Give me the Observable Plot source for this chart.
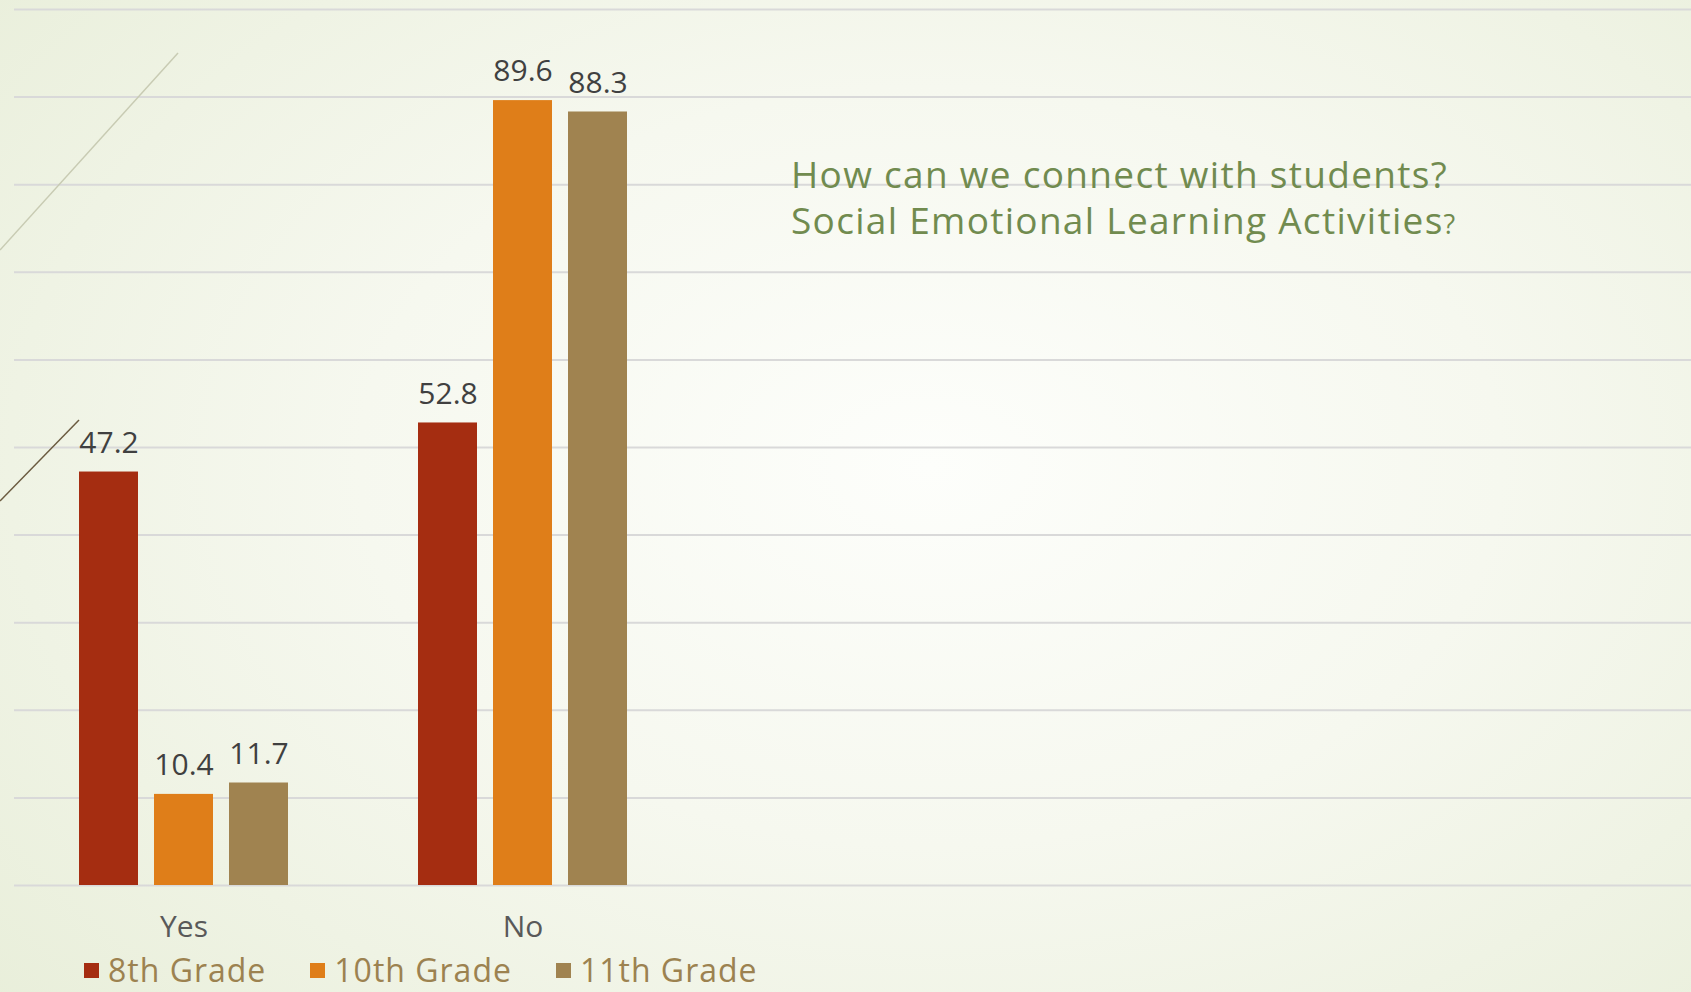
<!DOCTYPE html>
<html>
<head>
<meta charset="utf-8">
<script src="https://cdn.jsdelivr.net/npm/d3@7"></script>
<script src="https://cdn.jsdelivr.net/npm/@observablehq/plot@0.6"></script>
<style>
  html, body { margin: 0; padding: 0; width: 1691px; height: 992px; overflow: hidden; }
  body {
    background: radial-gradient(ellipse 75% 85% at 55% 47%, #fdfefb 0%, #f6f8ef 45%, #e8eed9 100%);
    font-family: "Open Sans", sans-serif;
    position: relative;
  }
  #stage { position: relative; width: 1691px; height: 950px; }
  #stage > * { position: absolute; left: 0; top: 0; }
  #deco { position: absolute; left: 0; top: 0; width: 400px; height: 600px; pointer-events: none; }
  #title {
    position: absolute; left: 791px; top: 151px;
    font-size: 37px; line-height: 46px; letter-spacing: 1.3px; color: #718b4f; white-space: nowrap;
  }
  #legend {
    display: flex; align-items: center; margin-top: 2px; height: 36px; line-height: 36px;
    padding-left: 84px; font-size: 32px; letter-spacing: 1px; color: #9c8250;
  }
  .item { display: flex; align-items: center; margin-right: 44px; }
  .sw { width: 15px; height: 15px; margin-right: 9px; }
</style>
</head>
<body>
<div id="stage"></div>
<svg id="deco" viewBox="0 0 400 600">
  <path d="M0,250 Q90,150 178,53" fill="none" stroke="#c8cbb3" stroke-width="1.5"/>
  <path d="M0,501 L79,420" fill="none" stroke="#6b5b40" stroke-width="1.5"/>
</svg>
<div id="title">How can we connect with students?<br>Social Emotional Learning Activities<span style="font-size:27px">?</span></div>
<div id="legend"></div>
<script>
const categories = ["Yes", "No"];
const grades = ["8th Grade", "10th Grade", "11th Grade"];
const yesValues = [47.2, 10.4, 11.7];
const noValues = [52.8, 89.6, 88.3];
const gradeColors = ["#A52D11", "#DF7E19", "#A08350"];
const gridTicks = [0, 10, 20, 30, 40, 50, 60, 70, 80, 90, 100];

const seriesByCategory = {Yes: yesValues, No: noValues};
const rows = categories.flatMap(c => grades.map((g, i) => ({category: c, grade: g, value: seriesByCategory[c][i]})));

const W = 1691, H = 950;
const common = {width: W, height: H, marginTop: 9, marginBottom: 65, marginLeft: 14};

// background gridlines spanning the full width
const grid = Plot.plot({
  ...common,
  marginRight: 0,
  style: {background: "transparent", overflow: "visible"},
  y: {domain: [0, 100], axis: null},
  marks: [
    Plot.ruleY(gridTicks, {stroke: "#d9d9d9", strokeWidth: 2})
  ]
});

// grouped bars
const bars = Plot.plot({
  ...common,
  marginRight: 999,
  style: {background: "transparent", fontSize: "30px", fontFamily: "Open Sans, sans-serif", color: "#595959", overflow: "visible"},
  facet: {data: rows, x: "category"},
  fx: {domain: categories, padding: 0, axis: "bottom", tickSize: 0, tickPadding: 30, label: null},
  x: {domain: grades, paddingInner: 0.21, paddingOuter: 0.865, axis: null},
  y: {domain: [0, 100], axis: null},
  color: {domain: grades, range: gradeColors},
  marks: [
    Plot.barY(rows, {x: "grade", y: "value", fill: "grade"}),
    Plot.text(rows, {x: "grade", y: "value", text: d => d.value.toFixed(1), dy: -29, fontSize: 30, fill: "#404040"})
  ]
});

const stage = document.getElementById("stage");
stage.appendChild(grid);
stage.appendChild(bars);

const legend = document.getElementById("legend");
grades.forEach((g, i) => {
  const item = document.createElement("div");
  item.className = "item";
  const sw = document.createElement("div");
  sw.className = "sw";
  sw.style.background = gradeColors[i];
  const label = document.createElement("span");
  label.textContent = g;
  item.appendChild(sw);
  item.appendChild(label);
  legend.appendChild(item);
});
</script>
</body>
</html>
